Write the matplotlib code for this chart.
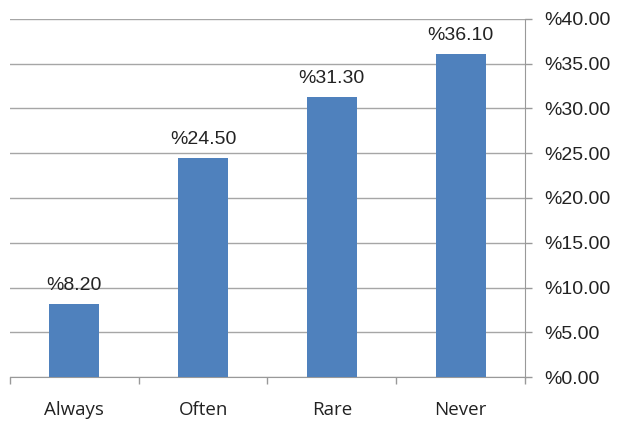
import matplotlib
matplotlib.use("Agg")
import matplotlib.pyplot as plt
from matplotlib.ticker import FixedLocator, FuncFormatter

categories = ["Always", "Often", "Rare", "Never"]
values = [8.20, 24.50, 31.30, 36.10]
yticks = [0, 5, 10, 15, 20, 25, 30, 35, 40]

fig = plt.figure(figsize=(6.24, 4.21), dpi=100)
ax = fig.add_axes([10/624, 1-377/421, (525-10)/624, (377-19)/421])

x = list(range(len(categories)))
ax.bar(x, values, width=0.39, color="#4F81BD", zorder=3)
ax.set_xlim(-0.5, len(categories) - 0.5)
ax.set_ylim(0, 40)

for xi, v in zip(x, values):
    ax.annotate(f"%{v:.2f}", (xi, v), xytext=(0, 7), textcoords="offset points",
                ha="center", va="bottom", fontsize=14, family="Liberation Sans", color="#222222")

ax.yaxis.tick_right()
ax.set_yticks(yticks)
ax.yaxis.set_major_formatter(FuncFormatter(lambda v, p: f"%{v:.2f}"))
ax.tick_params(axis="y", length=5, width=1, color="#999999", pad=9, labelsize=14, labelcolor="#222222")
for lab in ax.get_yticklabels():
    lab.set_family("Liberation Sans")

ax.set_xticks(x)
ax.set_xticklabels(categories, fontsize=13.5, family="Open Sans", color="#222222")
ax.xaxis.set_minor_locator(FixedLocator([-0.5, 0.5, 1.5, 2.5, 3.5]))
ax.tick_params(axis="x", which="major", length=0, pad=17)
ax.tick_params(axis="x", which="minor", length=5, width=1, color="#999999")

ax.grid(axis="y", color="#a6a6a6", linewidth=1, zorder=0)
for s in ["top", "left"]:
    ax.spines[s].set_visible(False)
ax.spines["right"].set_color("#999999")
ax.spines["bottom"].set_color("#999999")

fig.savefig("out.png", dpi=100)
